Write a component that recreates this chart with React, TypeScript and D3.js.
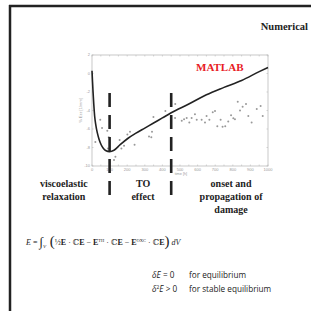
import * as d3 from "d3"

// curve (time [h], strain)
const curveT = [0, 3, 6, 10, 15, 22, 30, 40, 52, 65, 80, 100, 125, 160, 205, 250, 300, 350, 400, 450, 550, 650, 750, 850, 950, 1000]
const curveV = [0.3, -0.9, -2.0, -3.3, -4.6, -5.6, -6.4, -7.1, -7.7, -8.1, -8.35, -8.45, -8.3, -7.7, -7.0, -6.45, -5.9, -5.35, -4.8, -4.25, -3.3, -2.3, -1.5, -0.75, 0.2, 0.65]

// measured points
const ptsT = [19, 47, 57, 87, 95, 91, 133, 125, 157, 167, 182, 201, 216, 242, 324, 337, 341, 349, 417, 473, 472, 510, 523, 538, 553, 566, 585, 595, 623, 642, 651, 667, 686, 699, 712, 731, 742, 757, 774, 790, 803, 812, 828, 841, 856, 875, 888, 907, 936, 958, 970]
const ptsV = [-7.4, -5.0, -5.9, -6.2, -6.9, -8.1, -9.0, -9.35, -7.2, -8.1, -7.8, -6.6, -6.3, -7.7, -6.8, -6.9, -6.3, -4.7, -4.05, -3.3, -4.8, -5.1, -4.95, -4.8, -5.3, -4.8, -4.4, -5.0, -5.0, -5.3, -4.6, -5.0, -4.2, -4.05, -5.7, -5.0, -5.75, -5.7, -5.2, -4.5, -4.85, -4.95, -3.05, -4.0, -3.6, -3.3, -4.6, -5.3, -3.85, -3.5, -4.6]

const xTicks = [0, 100, 200, 300, 400, 500, 600, 700, 800, 900, 1000]
const yTicks = [2, 0, -2, -4, -6, -8, -10]
const phaseT = [100, 450]

const stageLabels = [
  { t: -160, lines: ["viscoelastic", "relaxation"] },
  { t: 290, lines: ["TO", "effect"] },
  { t: 790, lines: ["onset and", "propagation of", "damage"] },
]

const serif = "'Liberation Serif', 'DejaVu Serif', serif"
const sans = "'Liberation Sans', Arial, sans-serif"
const body = "'Open Sans', 'Liberation Sans', sans-serif"

export default function App() {
  const x = d3.scaleLinear().domain([0, 1000]).range([92, 268])
  const y = d3.scaleLinear().domain([-10, 2]).range([166, 55])

  const line = d3
    .line<number>()
    .x((_, i) => x(curveT[i]))
    .y((v) => y(v))
    .curve(d3.curveMonotoneX)

  const minor = d3.range(0, 1001, 50)

  return (
    <svg width={311} height={311} style={{ position: "absolute", left: 0, top: 0, background: "#fff" }}>
      {/* slide frame */}
      <line x1={9} x2={311} y1={6} y2={6} stroke="#222" strokeWidth={2.5} />
      <line x1={10} x2={10} y1={5} y2={311} stroke="#222" strokeWidth={2.5} />

      <text x={308} y={30} textAnchor="end" fontFamily={serif} fontWeight="bold" fontSize={10.5} fill="#222">
        Numerical
      </text>

      {/* plot box */}
      <rect x={x(0)} y={y(2)} width={x(1000) - x(0)} height={y(-10) - y(2)} fill="none" stroke="#bbb" strokeWidth={0.8} />
      {minor.map((t) => (
        <g key={"mx" + t}>
          <line x1={x(t)} x2={x(t)} y1={y(-10)} y2={y(-10) - 1.5} stroke="#bbb" strokeWidth={0.6} />
          <line x1={x(t)} x2={x(t)} y1={y(2)} y2={y(2) + 1.5} stroke="#bbb" strokeWidth={0.6} />
        </g>
      ))}
      {yTicks.map((v) => (
        <g key={"y" + v}>
          <line x1={x(0)} x2={x(0) + 1.5} y1={y(v)} y2={y(v)} stroke="#bbb" strokeWidth={0.6} />
          <line x1={x(1000)} x2={x(1000) - 1.5} y1={y(v)} y2={y(v)} stroke="#bbb" strokeWidth={0.6} />
          <text x={x(0) - 2} y={y(v)} dy="0.35em" textAnchor="end" fontFamily={sans} fontSize={4} fill="#999">
            {v}
          </text>
        </g>
      ))}
      {xTicks.map((t) => (
        <text key={"x" + t} x={x(t)} y={y(-10) + 5} textAnchor="middle" fontFamily={sans} fontSize={4} fill="#999">
          {t}
        </text>
      ))}
      <text x={x(470)} y={y(-10) + 8.5} textAnchor="start" fontFamily={sans} fontSize={3.8} fill="#999">
        time [h]
      </text>
      <text
        transform={`translate(${x(0) - 10},${y(-4)}) rotate(-90)`}
        textAnchor="middle"
        fontFamily={sans}
        fontSize={4}
        fill="#999"
      >
        % Ezz [1/mm]
      </text>

      {/* measured points */}
      {ptsT.map((t, i) => (
        <circle key={"p" + i} cx={x(t)} cy={y(ptsV[i])} r={1} fill="#999" />
      ))}

      {/* model curve */}
      <path d={line(curveV) || ""} fill="none" stroke="#222" strokeWidth={1.6} />

      <text x={196} y={71} fontFamily={serif} fontWeight="bold" fontSize={11} fill="#e8201f">
        MATLAB
      </text>

      {/* phase boundaries */}
      {phaseT.map((t) => (
        <line key={"ph" + t} x1={x(t)} x2={x(t)} y1={93} y2={196} stroke="#222" strokeWidth={2.6} strokeDasharray="14,8" />
      ))}

      {stageLabels.map((s) =>
        s.lines.map((l, j) => (
          <text
            key={l}
            x={x(s.t)}
            y={187 + j * 13}
            textAnchor="middle"
            fontFamily={serif}
            fontWeight="bold"
            fontSize={10}
            fill="#222"
          >
            {l}
          </text>
        ))
      )}

      {/* energy functional */}
      <text x={26} y={245} fontFamily={serif} fontSize={8} fill="#222">
        <tspan fontStyle="italic">E</tspan>
        <tspan> = </tspan>
        <tspan fontSize={13} dy={1}>∫</tspan>
        <tspan fontStyle="italic" fontSize={5} dy={2}>V</tspan>
        <tspan fontSize={15} dy={-2}> (</tspan>
        <tspan dy={-1}>½</tspan>
        <tspan fontWeight="bold">E</tspan>
        <tspan> · ℂ</tspan>
        <tspan fontWeight="bold">E</tspan>
        <tspan> − </tspan>
        <tspan fontWeight="bold">E</tspan>
        <tspan fontSize={4.5} dy={-3}>TH</tspan>
        <tspan dy={3}> · ℂ</tspan>
        <tspan fontWeight="bold">E</tspan>
        <tspan> − </tspan>
        <tspan fontWeight="bold">E</tspan>
        <tspan fontSize={4.5} dy={-3}>OXC</tspan>
        <tspan dy={3}> · ℂ</tspan>
        <tspan fontWeight="bold">E</tspan>
        <tspan fontSize={15} dy={1}>)</tspan>
        <tspan fontStyle="italic" dy={-1}> dV</tspan>
      </text>

      <text x={152} y={278} fontFamily={body} fontSize={8.2} fill="#222">
        <tspan fontStyle="italic">δE</tspan>
        <tspan> = 0</tspan>
        <tspan x={189}>for equilibrium</tspan>
      </text>
      <text x={152} y={292} fontFamily={body} fontSize={8.2} fill="#222">
        <tspan fontStyle="italic">δ</tspan>
        <tspan fontSize={4.8} dy={-3}>2</tspan>
        <tspan fontStyle="italic" dy={3}>E</tspan>
        <tspan> &gt; 0</tspan>
        <tspan x={189}>for stable equilibrium</tspan>
      </text>
    </svg>
  )
}
